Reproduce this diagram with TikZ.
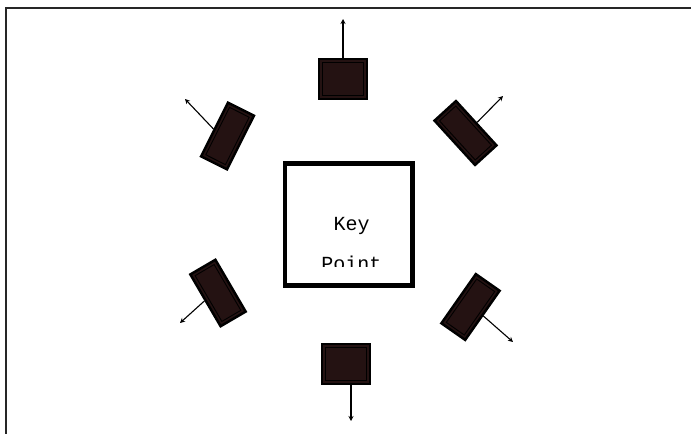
\documentclass[tikz,border=0pt]{standalone}
\usepackage{fontspec}
\setmonofont{Liberation Mono}
\usetikzlibrary{arrows.meta}
\definecolor{devfill}{RGB}{36,18,18}
\begin{document}
\begin{tikzpicture}[x=1pt,y=-1pt,
  dev/.style={rectangle, fill=devfill, draw=black, line width=2.5pt, inner sep=0pt},
  devin/.style={rectangle, draw=black, line width=0.9pt, inner sep=0pt},
  ray/.style={line width=1.1pt, -{Stealth[length=5pt,width=5pt]}},
  kpbox/.style={rectangle, draw=black, line width=4.5pt, inner sep=0pt},
  kptext/.style={font=\ttfamily\fontsize{20}{24}\selectfont, anchor=base, inner sep=0pt}]
\useasboundingbox (0,0) rectangle (691,434);
% frame (top and left edges)
\draw[line width=2pt, black!85] (691,8) -- (6,8) -- (6,434);

% key point box
\node[kpbox, minimum width=127.5pt, minimum height=122pt] (kp) at (348.75,224.5) {};
\node[kptext] (key) at (351.5,230) {Key};
\begin{scope}
  \clip (290,240) rectangle (410,266.5);
  \node[kptext] (pt) at (351.5,270.5) {Point};
\end{scope}

% devices
\node[dev, minimum width=48pt, minimum height=40pt] (d1) at (343,79) {};
\node[devin, minimum width=41pt, minimum height=33pt] (d1i) at (343,79) {};
\node[dev, minimum width=29pt, minimum height=60pt, rotate=-26.6] (d2) at (227.5,136) {};
\node[devin, minimum width=22pt, minimum height=53pt, rotate=-26.6] (d2i) at (227.5,136) {};
\node[dev, minimum width=29pt, minimum height=60pt, rotate=42.4] (d3) at (465.5,133) {};
\node[devin, minimum width=22pt, minimum height=53pt, rotate=42.4] (d3i) at (465.5,133) {};
\node[dev, minimum width=29pt, minimum height=60pt, rotate=30.3] (d4) at (218,293) {};
\node[devin, minimum width=22pt, minimum height=53pt, rotate=30.3] (d4i) at (218,293) {};
\node[dev, minimum width=29pt, minimum height=60pt, rotate=-35] (d5) at (470.5,307) {};
\node[devin, minimum width=22pt, minimum height=53pt, rotate=-35] (d5i) at (470.5,307) {};
\node[dev, minimum width=48pt, minimum height=40pt] (d6) at (346,364) {};
\node[devin, minimum width=41pt, minimum height=33pt] (d6i) at (346,364) {};

% arrow end points
\coordinate (e1) at (343,19);
\coordinate (e2) at (185,99);
\coordinate (e3) at (503,96);
\coordinate (e4) at (180,323);
\coordinate (e5) at (513,342);
\coordinate (e6) at (351,421);

\draw[ray] (d1.north) -- (e1);
\draw[ray] (d2.west) -- (e2);
\draw[ray] (d3.east) -- (e3);
\draw[ray] (d4.west) -- (e4);
\draw[ray] (d5.east) -- (e5);
\draw[ray] ([xshift=5pt]d6.south) -- (e6);
\end{tikzpicture}
\end{document}
